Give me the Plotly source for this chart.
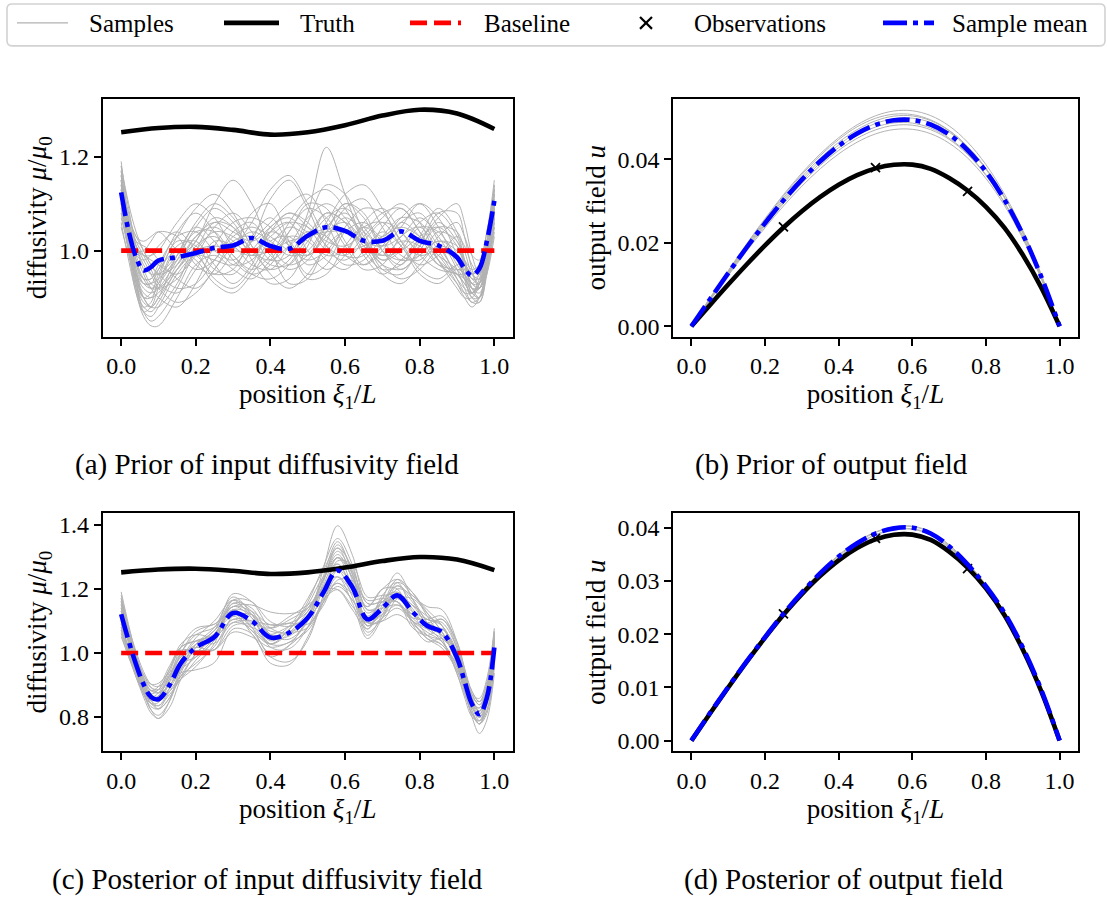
import plotly.graph_objects as go

W, H = 1107, 902

# ---------------- data ----------------
# input field grids
x_prior = [0.0, 0.02, 0.04, 0.06, 0.08, 0.10, 0.15, 0.20, 0.25, 0.30, 0.35, 0.40, 0.45,
           0.50, 0.55, 0.60, 0.65, 0.70, 0.75, 0.80, 0.85, 0.90, 0.92, 0.94, 0.96, 0.98, 1.0]

truth_x = [0.0, 0.1, 0.2, 0.3, 0.4, 0.5, 0.6, 0.7, 0.8, 0.9, 1.0]
truth_mu = [1.252, 1.261, 1.2635, 1.257, 1.247, 1.252, 1.267, 1.2875, 1.300, 1.292, 1.259]

baseline_x = [0.0, 1.0]
baseline_mu = [1.0, 1.0]

prior_mean = [1.124, 1.042, 0.986, 0.958, 0.965, 0.979, 0.986, 0.995, 1.006, 1.011, 1.027, 1.010,
              1.004, 1.032, 1.050, 1.042, 1.021, 1.021, 1.041, 1.021, 1.011, 0.986, 0.962, 0.947,
              0.962, 1.020, 1.106]

prior_samples = [
    [1.15, 1.05, 0.96, 0.90, 0.88, 0.90, 0.99, 1.05, 1.02, 0.97, 0.98, 1.04, 1.08, 1.05, 1.00, 0.98, 1.02, 1.06, 1.04, 0.99, 0.96, 0.95, 0.93, 0.91, 0.93, 1.00, 1.10],
    [1.10, 1.03, 0.99, 0.98, 0.99, 1.01, 1.04, 1.00, 0.94, 0.92, 0.96, 1.02, 1.03, 0.99, 1.04, 1.10, 1.08, 1.00, 0.96, 1.00, 1.06, 1.02, 0.98, 0.94, 0.95, 1.01, 1.12],
    [1.19, 1.06, 0.94, 0.87, 0.85, 0.86, 0.92, 1.00, 1.06, 1.05, 1.00, 0.96, 0.98, 1.06, 1.14, 1.12, 1.04, 0.98, 1.00, 1.05, 1.04, 0.98, 0.94, 0.90, 0.90, 0.98, 1.14],
    [1.07, 1.02, 1.00, 1.00, 1.02, 1.04, 1.03, 0.97, 0.95, 1.00, 1.08, 1.10, 1.02, 0.95, 0.97, 1.04, 1.06, 1.03, 1.07, 1.10, 1.05, 0.97, 0.95, 0.93, 0.95, 1.01, 1.08],
    [1.13, 1.02, 0.93, 0.89, 0.88, 0.90, 0.96, 1.02, 1.07, 1.05, 0.98, 0.93, 0.94, 1.01, 1.08, 1.06, 0.99, 0.95, 0.98, 1.02, 0.99, 0.93, 0.90, 0.88, 0.90, 0.97, 1.06],
    [1.16, 1.08, 1.03, 1.02, 1.03, 1.04, 1.00, 0.96, 0.98, 1.04, 1.06, 1.00, 0.93, 0.94, 1.02, 1.09, 1.11, 1.05, 0.99, 0.98, 1.03, 1.06, 1.03, 0.99, 0.98, 1.04, 1.15],
    [1.12, 1.00, 0.91, 0.87, 0.86, 0.88, 0.95, 0.99, 0.98, 0.97, 1.02, 1.11, 1.15, 1.09, 1.01, 0.99, 1.03, 1.07, 1.10, 1.06, 0.98, 0.92, 0.90, 0.90, 0.93, 1.00, 1.09],
    [1.09, 1.03, 1.00, 0.99, 0.98, 0.97, 0.95, 0.99, 1.05, 1.08, 1.04, 0.98, 0.99, 1.08, 1.22, 1.12, 1.02, 0.97, 0.96, 0.99, 1.02, 1.00, 0.98, 0.96, 0.97, 1.02, 1.10],
    [1.14, 1.04, 0.96, 0.93, 0.93, 0.96, 1.04, 1.08, 1.04, 0.98, 0.95, 0.97, 1.04, 1.09, 1.07, 1.01, 0.96, 0.97, 1.03, 1.05, 1.00, 0.94, 0.92, 0.91, 0.93, 0.99, 1.07],
    [1.18, 1.09, 1.01, 0.96, 0.93, 0.92, 0.94, 1.00, 1.04, 1.03, 1.00, 1.00, 1.04, 1.10, 1.09, 1.02, 0.97, 1.00, 1.06, 1.03, 0.97, 0.95, 0.95, 0.95, 0.97, 1.04, 1.13],
    [1.06, 0.98, 0.91, 0.86, 0.84, 0.84, 0.90, 0.97, 0.99, 0.96, 0.94, 0.98, 1.03, 1.02, 0.98, 0.96, 1.00, 1.04, 1.01, 0.95, 0.93, 0.96, 0.95, 0.92, 0.91, 0.95, 1.03],
    [1.11, 1.05, 1.01, 0.99, 0.99, 1.00, 1.06, 1.10, 1.07, 1.01, 0.99, 1.04, 1.06, 1.00, 0.96, 0.99, 1.06, 1.09, 1.04, 1.00, 1.02, 1.01, 0.97, 0.93, 0.92, 0.97, 1.05],
    [1.17, 1.05, 0.95, 0.90, 0.90, 0.93, 1.01, 1.02, 0.97, 0.93, 0.97, 1.05, 1.07, 1.04, 1.05, 1.10, 1.07, 1.00, 0.97, 1.03, 1.09, 1.04, 0.98, 0.92, 0.90, 0.96, 1.08],
    [1.08, 1.00, 0.95, 0.93, 0.93, 0.94, 0.98, 1.02, 1.10, 1.15, 1.10, 1.01, 0.97, 0.99, 1.05, 1.08, 1.03, 0.96, 0.95, 1.01, 1.08, 1.08, 1.03, 0.96, 0.92, 0.96, 1.04],
    [1.13, 1.07, 1.03, 1.00, 0.97, 0.95, 0.92, 0.93, 0.98, 1.03, 1.05, 1.03, 1.00, 0.99, 1.03, 1.07, 1.04, 1.01, 1.03, 1.07, 1.03, 0.96, 0.92, 0.89, 0.89, 0.96, 1.10],
    [1.15, 1.02, 0.92, 0.87, 0.88, 0.92, 1.00, 0.99, 0.95, 0.96, 1.03, 1.07, 1.01, 0.94, 0.95, 1.01, 1.05, 1.02, 0.98, 0.99, 1.04, 1.02, 0.97, 0.93, 0.93, 1.00, 1.12],
    [1.10, 1.04, 0.99, 0.95, 0.92, 0.90, 0.88, 0.93, 1.01, 1.06, 1.07, 1.05, 1.01, 0.98, 1.00, 1.04, 1.01, 0.95, 0.93, 0.97, 1.01, 0.99, 0.95, 0.91, 0.90, 0.96, 1.07],
    [1.16, 1.06, 0.98, 0.94, 0.94, 0.97, 1.03, 1.04, 1.00, 0.98, 1.02, 1.06, 1.10, 1.12, 1.06, 0.99, 0.99, 1.05, 1.09, 1.04, 0.98, 0.93, 0.91, 0.91, 0.94, 1.02, 1.13],
    [1.12, 1.06, 1.02, 1.01, 1.00, 0.98, 0.94, 0.92, 0.96, 1.02, 1.03, 0.99, 0.96, 0.98, 1.04, 1.06, 1.02, 0.98, 1.01, 1.06, 1.08, 1.03, 0.98, 0.94, 0.93, 0.99, 1.10],
    [1.17, 1.04, 0.93, 0.88, 0.89, 0.94, 1.02, 1.01, 0.96, 0.95, 1.00, 1.04, 1.02, 0.97, 0.99, 1.05, 1.09, 1.08, 1.02, 0.96, 0.94, 0.97, 0.97, 0.95, 0.94, 0.99, 1.11],
    [1.09, 1.01, 0.95, 0.92, 0.91, 0.92, 0.98, 1.05, 1.09, 1.06, 1.00, 0.98, 1.01, 1.04, 1.03, 0.99, 0.97, 1.01, 1.06, 1.08, 1.02, 0.94, 0.91, 0.89, 0.90, 0.97, 1.09],
    [1.14, 1.07, 1.02, 0.99, 0.96, 0.93, 0.91, 0.96, 1.02, 1.01, 0.97, 0.96, 1.01, 1.07, 1.10, 1.07, 1.01, 0.99, 1.02, 1.01, 0.97, 0.96, 0.96, 0.95, 0.96, 1.02, 1.12],
    [1.05, 0.99, 0.94, 0.90, 0.88, 0.88, 0.93, 1.01, 1.03, 0.99, 0.96, 0.99, 1.06, 1.11, 1.13, 1.09, 1.02, 0.97, 0.94, 0.96, 1.00, 0.99, 0.96, 0.93, 0.92, 0.97, 1.05],
    [1.18, 1.10, 1.04, 1.00, 0.97, 0.95, 0.97, 1.03, 1.06, 1.04, 1.02, 1.05, 1.08, 1.06, 1.01, 0.97, 0.98, 1.03, 1.07, 1.06, 1.01, 0.95, 0.93, 0.91, 0.92, 0.99, 1.13],
    [1.11, 1.03, 0.97, 0.94, 0.94, 0.96, 1.00, 0.98, 0.93, 0.91, 0.95, 1.01, 1.05, 1.03, 0.99, 1.00, 1.05, 1.06, 1.01, 0.97, 0.99, 1.03, 1.01, 0.97, 0.95, 1.00, 1.09],
    [1.15, 1.03, 0.94, 0.90, 0.91, 0.95, 1.03, 1.09, 1.12, 1.08, 1.01, 0.97, 0.97, 1.02, 1.07, 1.09, 1.05, 1.00, 0.98, 1.01, 1.05, 1.04, 1.00, 0.95, 0.93, 0.99, 1.10],
    [1.08, 1.04, 1.01, 0.98, 0.95, 0.92, 0.89, 0.91, 0.96, 1.01, 1.04, 1.02, 0.99, 1.00, 1.06, 1.12, 1.14, 1.09, 1.02, 0.99, 1.00, 0.98, 0.94, 0.90, 0.89, 0.95, 1.06],
    [1.13, 1.05, 0.98, 0.94, 0.92, 0.92, 0.96, 1.00, 1.01, 1.00, 1.00, 1.03, 1.06, 1.05, 1.02, 1.01, 1.04, 1.08, 1.09, 1.04, 0.98, 0.95, 0.94, 0.92, 0.92, 0.98, 1.08],
    [1.16, 1.05, 0.97, 0.93, 0.92, 0.93, 0.99, 1.06, 1.10, 1.07, 1.01, 0.95, 0.92, 0.95, 1.01, 1.04, 1.02, 0.99, 1.00, 1.03, 1.05, 1.01, 0.97, 0.94, 0.94, 1.01, 1.14],
    [1.10, 1.00, 0.92, 0.88, 0.87, 0.89, 0.96, 1.00, 1.00, 1.01, 1.06, 1.13, 1.16, 1.10, 1.03, 1.00, 1.01, 1.03, 1.05, 1.03, 0.99, 0.96, 0.94, 0.92, 0.92, 0.98, 1.08],
    [1.12, 1.06, 1.01, 0.97, 0.95, 0.95, 0.99, 1.04, 1.04, 0.99, 0.95, 0.94, 0.97, 1.03, 1.08, 1.06, 1.00, 0.96, 0.97, 1.02, 1.07, 1.10, 1.06, 0.99, 0.95, 0.99, 1.08],
    [1.14, 1.03, 0.95, 0.91, 0.90, 0.91, 0.97, 1.03, 1.05, 1.02, 0.99, 1.00, 1.02, 1.03, 1.04, 1.04, 1.02, 1.01, 1.05, 1.10, 1.07, 0.99, 0.95, 0.91, 0.90, 0.96, 1.07],
]

x_post = [0.0, 0.02, 0.04, 0.06, 0.08, 0.10, 0.13, 0.16, 0.20, 0.25, 0.30, 0.35, 0.40, 0.45, 0.50,
          0.54, 0.58, 0.62, 0.66, 0.70, 0.74, 0.78, 0.82, 0.86, 0.90, 0.92, 0.94, 0.96, 0.98, 1.0]

post_mean = [1.121, 1.038, 0.964, 0.902, 0.862, 0.855, 0.900, 0.968, 1.017, 1.050, 1.125, 1.100, 1.048,
             1.063, 1.110, 1.185, 1.258, 1.205, 1.105, 1.140, 1.180, 1.130, 1.085, 1.065, 0.985, 0.912,
             0.840, 0.808, 0.860, 1.017]

post_samples = [
    [1.171, 1.078, 0.994, 0.922, 0.882, 0.875, 0.920, 0.998, 1.057, 1.080, 1.145, 1.130, 1.088, 1.093, 1.130, 1.225, 1.318, 1.245, 1.125, 1.160, 1.210, 1.160, 1.105, 1.095, 1.015, 0.942, 0.870, 0.838, 0.890, 1.057],
    [1.071, 0.998, 0.934, 0.872, 0.832, 0.825, 0.880, 0.928, 0.967, 1.020, 1.105, 1.070, 0.998, 1.023, 1.080, 1.155, 1.208, 1.165, 1.085, 1.110, 1.140, 1.100, 1.065, 1.035, 0.955, 0.882, 0.810, 0.778, 0.820, 0.967],
    [1.141, 1.038, 0.954, 0.892, 0.862, 0.875, 0.940, 1.018, 1.037, 1.030, 1.095, 1.100, 1.088, 1.093, 1.090, 1.145, 1.228, 1.225, 1.165, 1.170, 1.160, 1.100, 1.085, 1.105, 1.015, 0.922, 0.830, 0.798, 0.870, 1.047],
    [1.091, 1.018, 0.954, 0.902, 0.872, 0.855, 0.880, 0.918, 0.957, 1.030, 1.155, 1.140, 1.058, 1.043, 1.100, 1.215, 1.338, 1.255, 1.095, 1.100, 1.170, 1.170, 1.125, 1.065, 0.965, 0.892, 0.830, 0.808, 0.870, 1.037],
    [1.191, 1.088, 0.994, 0.912, 0.852, 0.825, 0.860, 0.948, 1.027, 1.080, 1.175, 1.120, 1.018, 1.013, 1.080, 1.195, 1.278, 1.195, 1.075, 1.150, 1.230, 1.190, 1.115, 1.045, 0.935, 0.872, 0.810, 0.778, 0.840, 1.017],
    [1.061, 0.988, 0.934, 0.882, 0.852, 0.865, 0.930, 0.988, 1.007, 1.010, 1.085, 1.090, 1.078, 1.113, 1.150, 1.185, 1.218, 1.185, 1.145, 1.200, 1.200, 1.090, 1.035, 1.045, 1.005, 0.942, 0.860, 0.818, 0.860, 0.997],
    [1.161, 1.058, 0.964, 0.882, 0.822, 0.795, 0.830, 0.918, 0.997, 1.050, 1.135, 1.090, 1.028, 1.063, 1.130, 1.225, 1.298, 1.205, 1.065, 1.110, 1.180, 1.150, 1.085, 1.035, 0.955, 0.902, 0.850, 0.828, 0.890, 1.057],
    [1.121, 1.048, 0.984, 0.932, 0.902, 0.905, 0.940, 0.968, 0.987, 1.040, 1.145, 1.110, 1.038, 1.073, 1.160, 1.265, 1.358, 1.275, 1.135, 1.140, 1.150, 1.110, 1.105, 1.115, 1.025, 0.932, 0.840, 0.788, 0.820, 0.967],
    [1.101, 1.008, 0.934, 0.872, 0.842, 0.845, 0.910, 0.998, 1.067, 1.090, 1.125, 1.060, 0.988, 1.023, 1.110, 1.205, 1.258, 1.175, 1.055, 1.120, 1.210, 1.170, 1.095, 1.055, 0.985, 0.932, 0.870, 0.838, 0.880, 1.027],
    [1.181, 1.078, 0.984, 0.922, 0.892, 0.885, 0.910, 0.948, 0.987, 1.050, 1.165, 1.160, 1.098, 1.083, 1.110, 1.165, 1.198, 1.145, 1.095, 1.180, 1.220, 1.130, 1.055, 1.025, 0.965, 0.912, 0.860, 0.848, 0.910, 1.067],
    [1.081, 1.008, 0.944, 0.892, 0.862, 0.865, 0.900, 0.938, 0.947, 0.970, 1.075, 1.060, 0.968, 0.963, 1.050, 1.155, 1.238, 1.185, 1.115, 1.160, 1.180, 1.110, 1.075, 1.075, 0.985, 0.892, 0.800, 0.748, 0.790, 0.937],
    [1.151, 1.068, 0.984, 0.912, 0.872, 0.855, 0.920, 1.018, 1.077, 1.090, 1.145, 1.150, 1.128, 1.123, 1.140, 1.225, 1.308, 1.235, 1.145, 1.200, 1.230, 1.180, 1.145, 1.135, 1.035, 0.952, 0.880, 0.848, 0.900, 1.067],
    [1.051, 0.988, 0.924, 0.872, 0.822, 0.805, 0.850, 0.938, 1.017, 1.070, 1.125, 1.080, 1.028, 1.073, 1.150, 1.235, 1.278, 1.195, 1.095, 1.100, 1.120, 1.090, 1.055, 1.035, 0.935, 0.862, 0.800, 0.788, 0.840, 0.987],
    [1.131, 1.038, 0.964, 0.912, 0.882, 0.895, 0.960, 1.018, 1.037, 1.060, 1.155, 1.120, 1.048, 1.053, 1.110, 1.255, 1.398, 1.305, 1.155, 1.160, 1.160, 1.080, 1.055, 1.075, 1.005, 0.912, 0.820, 0.778, 0.850, 1.037],
    [1.151, 1.058, 0.974, 0.902, 0.852, 0.835, 0.890, 0.978, 1.047, 1.100, 1.165, 1.110, 1.028, 1.033, 1.100, 1.205, 1.298, 1.255, 1.155, 1.160, 1.170, 1.130, 1.105, 1.085, 0.985, 0.902, 0.830, 0.808, 0.880, 1.057],
    [1.091, 1.008, 0.944, 0.892, 0.862, 0.855, 0.890, 0.948, 1.017, 1.060, 1.115, 1.070, 1.028, 1.073, 1.140, 1.205, 1.238, 1.155, 1.045, 1.110, 1.200, 1.180, 1.135, 1.085, 0.975, 0.902, 0.840, 0.818, 0.870, 1.017],
    [1.131, 1.058, 0.994, 0.932, 0.892, 0.875, 0.900, 0.958, 1.027, 1.070, 1.185, 1.160, 1.078, 1.063, 1.110, 1.235, 1.348, 1.245, 1.085, 1.130, 1.190, 1.140, 1.075, 1.045, 0.995, 0.942, 0.880, 0.848, 0.880, 1.007],
    [1.081, 0.998, 0.924, 0.862, 0.812, 0.795, 0.850, 0.958, 1.037, 1.050, 1.095, 1.080, 1.058, 1.083, 1.110, 1.165, 1.218, 1.165, 1.105, 1.170, 1.190, 1.100, 1.045, 1.025, 0.945, 0.882, 0.820, 0.778, 0.810, 0.957],
    [1.171, 1.068, 0.984, 0.922, 0.882, 0.885, 0.950, 1.028, 1.057, 1.050, 1.105, 1.100, 1.068, 1.063, 1.080, 1.165, 1.288, 1.275, 1.175, 1.180, 1.180, 1.120, 1.095, 1.105, 1.035, 0.952, 0.860, 0.818, 0.880, 1.047],
    [1.121, 1.028, 0.944, 0.882, 0.852, 0.865, 0.930, 0.998, 1.017, 1.010, 1.065, 1.050, 1.018, 1.033, 1.070, 1.155, 1.258, 1.215, 1.105, 1.120, 1.150, 1.120, 1.095, 1.065, 0.965, 0.882, 0.810, 0.788, 0.860, 1.037],
    [1.161, 1.078, 1.004, 0.942, 0.902, 0.895, 0.930, 0.988, 1.027, 1.070, 1.165, 1.130, 1.048, 1.083, 1.170, 1.255, 1.328, 1.225, 1.085, 1.140, 1.220, 1.190, 1.125, 1.065, 0.975, 0.922, 0.870, 0.858, 0.920, 1.077],
    [1.111, 1.038, 0.964, 0.892, 0.842, 0.825, 0.860, 0.928, 0.997, 1.060, 1.135, 1.080, 0.988, 0.973, 1.040, 1.175, 1.298, 1.235, 1.095, 1.120, 1.180, 1.150, 1.115, 1.085, 0.995, 0.912, 0.840, 0.818, 0.890, 1.067],
    [1.141, 1.048, 0.964, 0.902, 0.872, 0.885, 0.950, 1.008, 1.007, 1.010, 1.115, 1.120, 1.078, 1.103, 1.140, 1.195, 1.198, 1.135, 1.075, 1.170, 1.250, 1.170, 1.085, 1.055, 1.005, 0.932, 0.850, 0.798, 0.840, 0.997],
    [1.071, 0.998, 0.934, 0.882, 0.842, 0.835, 0.870, 0.918, 0.977, 1.040, 1.135, 1.120, 1.058, 1.063, 1.120, 1.225, 1.328, 1.265, 1.135, 1.150, 1.160, 1.100, 1.045, 1.015, 0.945, 0.892, 0.840, 0.828, 0.890, 1.047],
]

# output field grid
x_u = [0.0, 0.05, 0.10, 0.15, 0.20, 0.25, 0.30, 0.35, 0.40, 0.45, 0.50,
       0.55, 0.60, 0.65, 0.70, 0.75, 0.80, 0.85, 0.90, 0.95, 1.0]

truth_u = [0.0, 0.00503, 0.00998, 0.01478, 0.01935, 0.02363, 0.02752, 0.03096, 0.03387, 0.03617, 0.0378,
           0.03867, 0.0387, 0.0377, 0.0355, 0.0325, 0.0286, 0.0236, 0.0171, 0.0093, 0.0]

obs_x = [0.25, 0.50, 0.75]
obs_u = [0.0238, 0.0380, 0.0323]

prior_u_mean = [0.0, 0.00641, 0.01273, 0.01886, 0.02469, 0.03014, 0.03511, 0.03950, 0.04321, 0.04615, 0.04823,
                0.04933, 0.04938, 0.04827, 0.04591, 0.04220, 0.03704, 0.03033, 0.02199, 0.01191, 0.0]

prior_u_samples = [
    [0.0, 0.00612, 0.01216, 0.01801, 0.02358, 0.02878, 0.03353, 0.03772, 0.04127, 0.04407, 0.04606, 0.04711, 0.04716, 0.04610, 0.04384, 0.04030, 0.03537, 0.02897, 0.02100, 0.01137, 0.0],
    [0.0, 0.00625, 0.01241, 0.01839, 0.02407, 0.02939, 0.03423, 0.03851, 0.04213, 0.04500, 0.04702, 0.04810, 0.04815, 0.04706, 0.04476, 0.04115, 0.03611, 0.02957, 0.02144, 0.01161, 0.0],
    [0.0, 0.00635, 0.01260, 0.01867, 0.02444, 0.02984, 0.03476, 0.03911, 0.04278, 0.04569, 0.04770, 0.04870, 0.04865, 0.04745, 0.04505, 0.04133, 0.03630, 0.02972, 0.02155, 0.01167, 0.0],
    [0.0, 0.00644, 0.01279, 0.01895, 0.02481, 0.03029, 0.03529, 0.03970, 0.04343, 0.04641, 0.04855, 0.04970, 0.04983, 0.04880, 0.04650, 0.04280, 0.03760, 0.03080, 0.02233, 0.01209, 0.0],
    [0.0, 0.00654, 0.01298, 0.01924, 0.02518, 0.03074, 0.03581, 0.04029, 0.04407, 0.04707, 0.04919, 0.05032, 0.05037, 0.04924, 0.04683, 0.04304, 0.03778, 0.03094, 0.02243, 0.01215, 0.0],
    [0.0, 0.00663, 0.01318, 0.01952, 0.02555, 0.03119, 0.03634, 0.04088, 0.04472, 0.04776, 0.04980, 0.05078, 0.05069, 0.04942, 0.04690, 0.04306, 0.03778, 0.03094, 0.02243, 0.01215, 0.0],
    [0.0, 0.00670, 0.01330, 0.01971, 0.02580, 0.03150, 0.03669, 0.04128, 0.04515, 0.04823, 0.05040, 0.05155, 0.05160, 0.05044, 0.04798, 0.04410, 0.03871, 0.03170, 0.02298, 0.01245, 0.0],
]

post_u_mean = [0.0, 0.00513, 0.01008, 0.01488, 0.01945, 0.02383, 0.02782, 0.03146, 0.03457, 0.03707, 0.0389,
               0.03987, 0.0400, 0.0389, 0.0365, 0.0331, 0.0290, 0.0240, 0.0175, 0.0096, 0.0]

post_u_samples = [
    [0.0, 0.00523, 0.01028, 0.01508, 0.01965, 0.02403, 0.02812, 0.03176, 0.03487, 0.03737, 0.0392, 0.04017, 0.0403, 0.0392, 0.0368, 0.0334, 0.0293, 0.0242, 0.0177, 0.0097, 0.0],
    [0.0, 0.00503, 0.00988, 0.01468, 0.01925, 0.02363, 0.02752, 0.03116, 0.03427, 0.03677, 0.0386, 0.03957, 0.0397, 0.0386, 0.0362, 0.0328, 0.0287, 0.0238, 0.0173, 0.0095, 0.0],
    [0.0, 0.00518, 0.01015, 0.01497, 0.01952, 0.02390, 0.02792, 0.03158, 0.03470, 0.03722, 0.0391, 0.04005, 0.0402, 0.0391, 0.0366, 0.0332, 0.0291, 0.0241, 0.0176, 0.0096, 0.0],
    [0.0, 0.00508, 0.01000, 0.01479, 0.01937, 0.02375, 0.02772, 0.03134, 0.03444, 0.03692, 0.0387, 0.03970, 0.0398, 0.0388, 0.0364, 0.0330, 0.0289, 0.0239, 0.0174, 0.0095, 0.0],
]

legend_labels = ["Samples", "Truth", "Baseline", "Observations", "Sample mean"]
captions = ["(a) Prior of input diffusivity field", "(b) Prior of output field",
            "(c) Posterior of input diffusivity field", "(d) Posterior of output field"]

# ---------------- styling ----------------
SAMPLE_C = "rgb(178,178,178)"
FONT = "Liberation Serif"
MEAN_DASH = "24px,6px,5px,6px"
BASE_DASH = "17px,7px"
LW = 4.6


def px_x(p):
    return p / W


def px_y(p):
    return 1 - p / H


fig = go.Figure()


def add_input_panel(xa, ya, xs, samples, mean):
    for s in samples:
        fig.add_trace(go.Scatter(x=xs, y=s, mode="lines", xaxis=xa, yaxis=ya, showlegend=False,
                                 line=dict(color=SAMPLE_C, width=1, shape="spline", smoothing=1.0)))
    fig.add_trace(go.Scatter(x=truth_x, y=truth_mu, mode="lines", xaxis=xa, yaxis=ya, showlegend=False,
                             line=dict(color="black", width=LW, shape="spline", smoothing=1.0)))
    fig.add_trace(go.Scatter(x=baseline_x, y=baseline_mu, mode="lines", xaxis=xa, yaxis=ya, showlegend=False,
                             line=dict(color="red", width=LW, dash=BASE_DASH)))
    fig.add_trace(go.Scatter(x=xs, y=mean, mode="lines", xaxis=xa, yaxis=ya, showlegend=False,
                             line=dict(color="blue", width=LW, dash=MEAN_DASH, shape="spline", smoothing=1.0)))


def add_output_panel(xa, ya, samples, mean):
    for s in samples:
        fig.add_trace(go.Scatter(x=x_u, y=s, mode="lines", xaxis=xa, yaxis=ya, showlegend=False,
                                 line=dict(color=SAMPLE_C, width=1, shape="spline", smoothing=1.0)))
    fig.add_trace(go.Scatter(x=x_u, y=truth_u, mode="lines", xaxis=xa, yaxis=ya, showlegend=False,
                             line=dict(color="black", width=LW, shape="spline", smoothing=1.0)))
    fig.add_trace(go.Scatter(x=obs_x, y=obs_u, mode="markers", xaxis=xa, yaxis=ya, showlegend=False,
                             marker=dict(symbol="x-thin", size=9, color="black",
                                         line=dict(color="black", width=1.8))))
    fig.add_trace(go.Scatter(x=x_u, y=mean, mode="lines", xaxis=xa, yaxis=ya, showlegend=False,
                             line=dict(color="blue", width=LW, dash=MEAN_DASH, shape="spline", smoothing=1.0)))


add_input_panel("x", "y", x_prior, prior_samples, prior_mean)
add_output_panel("x2", "y2", prior_u_samples, prior_u_mean)
add_input_panel("x3", "y3", x_post, post_samples, post_mean)
add_output_panel("x4", "y4", post_u_samples, post_u_mean)

axis_common = dict(showline=True, mirror=True, linecolor="black", linewidth=1.6,
                   ticks="outside", ticklen=7, tickwidth=1.6, tickcolor="black",
                   showgrid=False, zeroline=False,
                   tickfont=dict(family=FONT, size=24, color="black"))
title_font = dict(family=FONT, size=27, color="black")

xlabel = "position <i>ξ</i><sub>1</sub>/<i>L</i>"
mulabel = "diffusivity <i>μ</i>/<i>μ</i><sub>0</sub>"
ulabel = "output field <i>u</i>"

L_IN, R_IN = 102.5, 513.0
L_OUT, R_OUT = 673.0, 1078.0
T1, B1 = 99.0, 338.0
T2, B2 = 514.5, 754.0


def xax(l, r, anchor):
    return dict(axis_common, domain=[px_x(l), px_x(r)], anchor=anchor, range=[-0.05, 1.05],
                tick0=0, dtick=0.2, tickformat=".1f",
                title=dict(text=xlabel, font=title_font, standoff=0))


def yax(t, b, anchor, rng, dtick, fmt, label):
    return dict(axis_common, domain=[px_y(b), px_y(t)], anchor=anchor, range=rng,
                tick0=0, dtick=dtick, tickformat=fmt,
                title=dict(text=label, font=title_font, standoff=4))


fig.update_layout(
    width=W, height=H,
    margin=dict(l=0, r=0, t=0, b=0),
    paper_bgcolor="white", plot_bgcolor="white",
    showlegend=False,
    xaxis=xax(L_IN, R_IN, "y"),
    yaxis=yax(T1, B1, "x", [0.8165, 1.3235], 0.2, ".1f", mulabel),
    xaxis2=xax(L_OUT, R_OUT, "y2"),
    yaxis2=yax(T1, B1, "x2", [-0.00255, 0.0545], 0.02, ".2f", ulabel),
    xaxis3=xax(L_IN, R_IN, "y3"),
    yaxis3=yax(T2, B2, "x3", [0.6916, 1.4385], 0.2, ".1f", mulabel),
    xaxis4=xax(L_OUT, R_OUT, "y4"),
    yaxis4=yax(T2, B2, "x4", [-0.00205, 0.0428], 0.01, ".2f", ulabel),
)

# ---------------- captions ----------------
cap_pos = [(267, 466), (831, 466), (267, 882), (843, 882)]
for txt, (cx, cy) in zip(captions, cap_pos):
    fig.add_annotation(text=txt, x=px_x(cx), y=px_y(cy), xref="paper", yref="paper",
                       xanchor="center", yanchor="middle", showarrow=False,
                       font=dict(family=FONT, size=29, color="black"))

# ---------------- legend (figure-level, drawn as shapes + text) ----------------
LX0, LX1, LY0, LY1, RAD = 7.0, 1105.0, 4.0, 46.0, 5.0


def rounded_rect_path(x0, y0, x1, y1, r):
    pts = [
        ("M", x0 + r, y0), ("L", x1 - r, y0), ("Q", x1, y0, x1, y0 + r), ("L", x1, y1 - r),
        ("Q", x1, y1, x1 - r, y1), ("L", x0 + r, y1), ("Q", x0, y1, x0, y1 - r), ("L", x0, y0 + r),
        ("Q", x0, y0, x0 + r, y0),
    ]
    out = []
    for p in pts:
        cmd = p[0]
        coords = p[1:]
        s = []
        for i in range(0, len(coords), 2):
            s.append(f"{px_x(coords[i]):.5f},{px_y(coords[i + 1]):.5f}")
        out.append(cmd + " " + " ".join(s))
    return " ".join(out) + " Z"


fig.add_shape(type="path", path=rounded_rect_path(LX0, LY0, LX1, LY1, RAD), xref="paper", yref="paper",
              line=dict(color="rgb(210,210,210)", width=1.6), fillcolor="rgba(255,255,255,0.8)", layer="above")

LEG_Y = 23.0
handles = [
    (17, 68, dict(color=SAMPLE_C, width=1.2)),
    (224, 279, dict(color="black", width=LW)),
    (410, 461, dict(color="red", width=LW, dash=BASE_DASH)),
    None,
    (883, 934, dict(color="blue", width=LW, dash=MEAN_DASH)),
]
for h in handles:
    if h is None:
        continue
    x0, x1, ln = h
    fig.add_shape(type="line", x0=px_x(x0), x1=px_x(x1), y0=px_y(LEG_Y), y1=px_y(LEG_Y),
                  xref="paper", yref="paper", line=ln, layer="above")
# observation cross in legend
MX, MY, MS = 646.0, 23.0, 6.0
for (a, b, c, d) in [(MX - MS, MY - MS, MX + MS, MY + MS), (MX - MS, MY + MS, MX + MS, MY - MS)]:
    fig.add_shape(type="line", x0=px_x(a), y0=px_y(b), x1=px_x(c), y1=px_y(d), xref="paper", yref="paper",
                  line=dict(color="black", width=2.2), layer="above")

text_x = [87, 298, 482, 692, 950]
for lab, tx in zip(legend_labels, text_x):
    fig.add_annotation(text=lab, x=px_x(tx), y=px_y(24), xref="paper", yref="paper",
                       xanchor="left", yanchor="middle", showarrow=False,
                       font=dict(family=FONT, size=25, color="black"))

fig.write_html("out.html")
